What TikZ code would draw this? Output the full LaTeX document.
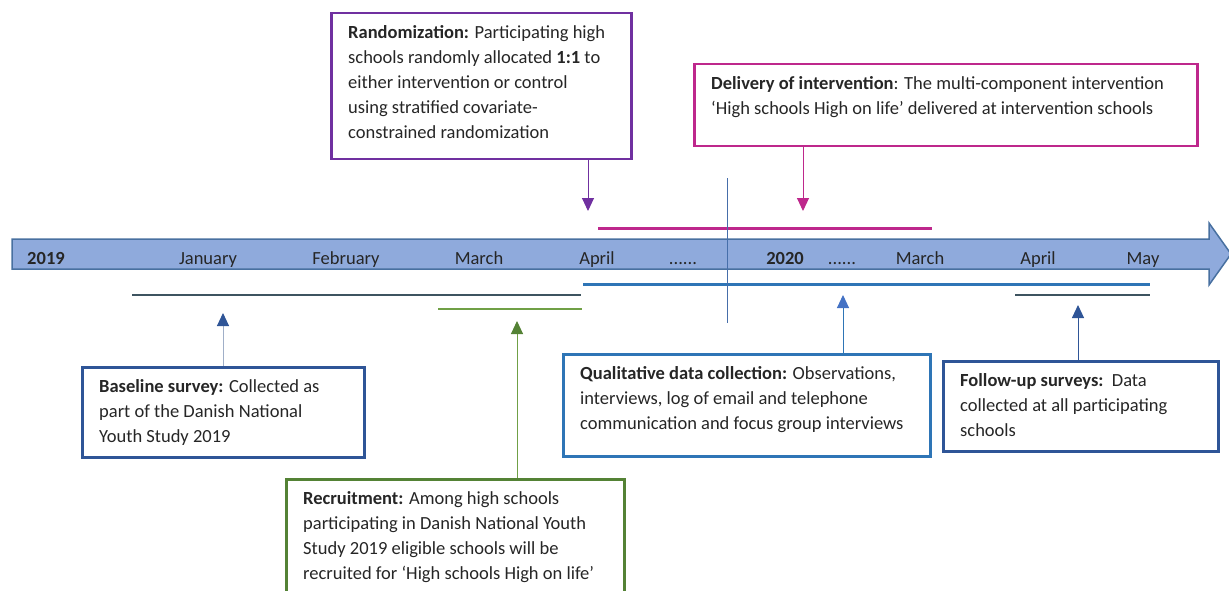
\documentclass[tikz,border=0pt]{standalone}
\usepackage{fontspec}
\setmainfont{Carlito}
\usetikzlibrary{arrows.meta}

\definecolor{axisfill}{RGB}{143,170,220}
\definecolor{axisdraw}{RGB}{72,112,160}
\definecolor{randcol}{RGB}{112,48,160}
\definecolor{delivcol}{RGB}{190,40,140}
\definecolor{basecol}{RGB}{47,85,151}
\definecolor{basestem}{RGB}{160,175,200}
\definecolor{slatecol}{RGB}{62,84,96}
\definecolor{recrcol}{RGB}{84,130,53}
\definecolor{recrline}{RGB}{112,160,70}
\definecolor{qualcol}{RGB}{46,117,182}
\definecolor{qualhead}{RGB}{68,114,196}
\definecolor{markcol}{RGB}{70,110,170}

\tikzset{
  stage/.style={draw=#1, line width=2.5pt, fill=white, anchor=north west, inner sep=0pt},
  note/.style={anchor=north west, align=left, inner xsep=18pt, inner ysep=13.5pt,
               font=\fontsize{18.5}{25}\selectfont, text=black!85},
  month/.style={anchor=base, font=\fontsize{18.5}{22}\selectfont, text=black!85},
  pointer/.style 2 args={draw=#1, line width=1pt, -{Triangle[length=13pt, width=12pt, color=#2]}},
  span/.style={draw=#1, line width=3pt},
  thinspan/.style={draw=#1, line width=2pt}
}

\begin{document}
\begin{tikzpicture}[x=1pt, y=-1pt]
\useasboundingbox (0,0) rectangle (1229,591);
\clip (0,0) rectangle (1229,591);

% time line
\draw[draw=axisdraw, line width=1.5pt, fill=axisfill]
  (12,239) -- (1209,239) -- (1209,223) -- (1231,254) -- (1209,285) -- (1209,269) -- (12,269) -- cycle;
\foreach \x/\m in {46/\textbf{2019}, 208/January, 346/February, 479/March, 597/April, 683/{......},
                   785/\textbf{2020}, 842/{......}, 920/March, 1038/April, 1143/May}
  \node[month] (m\x) at (\x,264) {\m};

% periods
\draw[span=delivcol] (598,228) -- (932,228);
\draw[span=qualcol] (583,284) -- (1150,284);
\draw[thinspan=slatecol] (132,295) -- (581,295);
\draw[thinspan=slatecol] (1015,295) -- (1150,295);
\draw[thinspan=recrline] (438,309) -- (582,309);
\draw[draw=markcol, line width=0.8pt] (727,178) -- (727,323);

% boxes
\node[stage=randcol, minimum width=300pt, minimum height=146pt] (rand) at (330,12) {};
\node[note] (rand-text) at (rand.north west)
  {\textbf{Randomization:} Participating high\\
   schools randomly allocated \textbf{1:1} to\\
   either intervention or control\\
   using stratified covariate-\\
   constrained randomization};

\node[stage=delivcol, minimum width=503pt, minimum height=82pt] (deliv) at (693,63) {};
\node[note] (deliv-text) at (deliv.north west)
  {\textbf{Delivery of intervention}: The multi-component intervention\\
   `High schools High on life' delivered at intervention schools};

\node[stage=basecol, minimum width=282pt, minimum height=90pt] (base) at (81,366) {};
\node[note] (base-text) at (base.north west)
  {\textbf{Baseline survey:} Collected as\\
   part of the Danish National\\
   Youth Study 2019};

\node[stage=recrcol, minimum width=338pt, minimum height=140pt] (recr) at (285,478) {};
\node[note] (recr-text) at (recr.north west)
  {\textbf{Recruitment:} Among high schools\\
   participating in Danish National Youth\\
   Study 2019 eligible schools will be\\
   recruited for `High schools High on life'};

\node[stage=qualcol, minimum width=367pt, minimum height=102pt] (qual) at (562,353) {};
\node[note] (qual-text) at (qual.north west)
  {\textbf{Qualitative data collection:} Observations,\\
   interviews, log of email and telephone\\
   communication and focus group interviews};

\node[stage=basecol, minimum width=275pt, minimum height=90pt] (foll) at (942,360) {};
\node[note] (foll-text) at (foll.north west)
  {\textbf{Follow-up surveys:}\ \ Data\\
   collected at all participating\\
   schools};

% pointers
\coordinate (rand-tip) at (588,211);
\coordinate (deliv-tip) at (803,211);
\coordinate (base-tip) at (223,313);
\coordinate (recr-tip) at (517,321);
\coordinate (qual-tip) at (843,295);
\coordinate (foll-tip) at (1078,305);

\draw[pointer={randcol}{randcol}] (rand.south -| rand-tip) -- (rand-tip);
\draw[pointer={delivcol}{delivcol}] (deliv.south -| deliv-tip) -- (deliv-tip);
\draw[pointer={basestem}{basecol}] (base.north -| base-tip) -- (base-tip);
\draw[pointer={recrline}{recrcol}] (recr.north -| recr-tip) -- (recr-tip);
\draw[pointer={qualcol}{qualhead}] (qual.north -| qual-tip) -- (qual-tip);
\draw[pointer={basecol}{basecol}] (foll.north -| foll-tip) -- (foll-tip);
\end{tikzpicture}
\end{document}
